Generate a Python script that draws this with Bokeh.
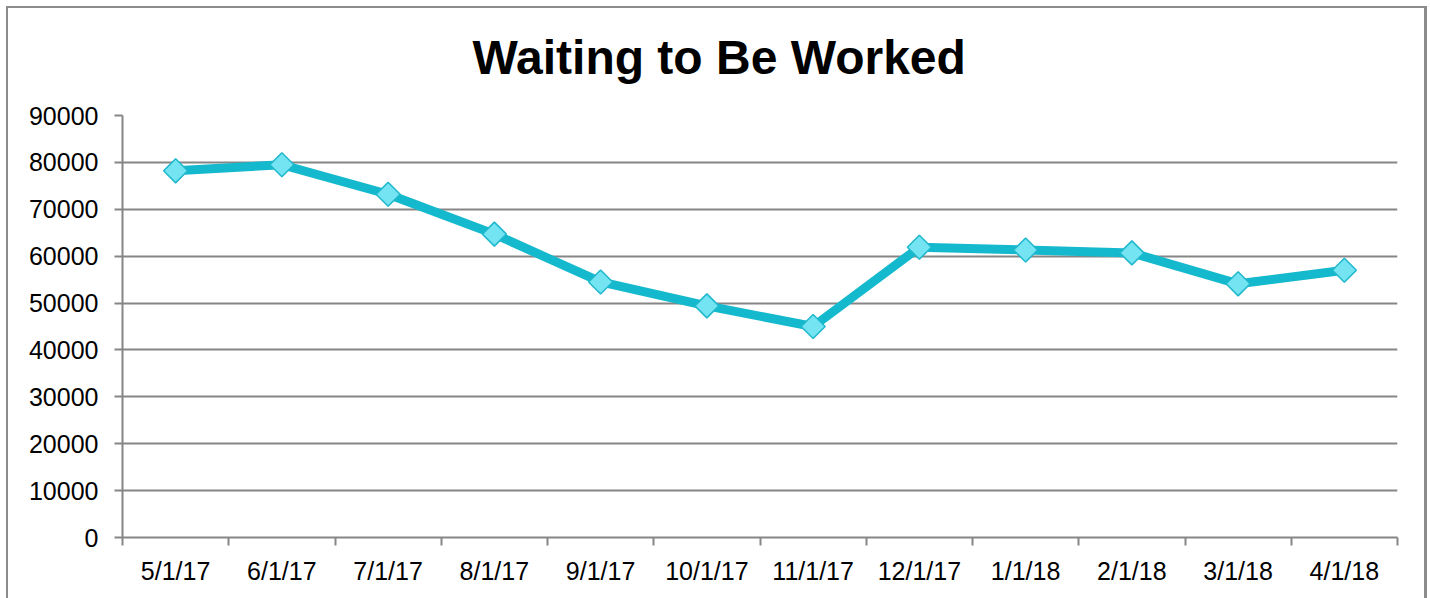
import math
from bokeh.plotting import figure
from bokeh.embed import file_html
from bokeh.resources import INLINE
from bokeh.models import FixedTicker, Range1d, ColumnDataSource

categories = ["5/1/17", "6/1/17", "7/1/17", "8/1/17", "9/1/17", "10/1/17",
              "11/1/17", "12/1/17", "1/1/18", "2/1/18", "3/1/18", "4/1/18"]
values = [78200, 79500, 73200, 64700, 54500, 49400, 45000, 61900, 61300, 60700, 54100, 57000]
y_ticks = [0, 10000, 20000, 30000, 40000, 50000, 60000, 70000, 80000, 90000]
title_text = "Waiting to Be Worked"

xs = [i + 0.5 for i in range(len(categories))]
src = ColumnDataSource(dict(x=xs, y=values, cat=categories))

p = figure(width=1430, height=598, output_backend="svg", toolbar_location=None,
           x_range=Range1d(0, len(categories)), y_range=Range1d(0, 90000),
           min_border_left=122, min_border_right=33, min_border_top=115, min_border_bottom=61,
           title=title_text)
p.styles = {"box-shadow": ("inset 6px 6px 0 0 #ffffff, inset -3px 0 0 0 #ffffff, "
                           "inset 8px 8px 0 0 #8c8c8c, inset -6px 0 0 0 #8c8c8c")}
p.outline_line_color = None
p.background_fill_color = None
p.border_fill_color = None

p.title.text_font = "Liberation Sans"
p.title.text_font_size = "48px"
p.title.text_font_style = "bold"
p.title.align = "left"
p.title.vertical_align = "top"
p.title.offset = 350
p.title.standoff = 59
p.title.text_color = "black"

# x axis
p.xaxis.ticker = FixedTicker(ticks=xs, minor_ticks=list(range(len(categories) + 1)))
p.xaxis.major_label_overrides = {x: c for x, c in zip(xs, categories)}
p.xaxis.major_tick_out = 0
p.xaxis.major_tick_in = 0
p.xaxis.minor_tick_out = 8
p.xaxis.minor_tick_in = 0
p.xaxis.minor_tick_line_color = "#868686"
p.xaxis.minor_tick_line_width = 2
p.xaxis.axis_line_color = "#868686"
p.xaxis.axis_line_width = 2
p.xaxis.major_label_text_font = "Liberation Sans"
p.xaxis.major_label_text_font_size = "25px"
p.xaxis.major_label_text_color = "black"
p.xaxis.major_label_standoff = 11

# y axis
p.yaxis.ticker = FixedTicker(ticks=y_ticks)
p.yaxis.major_label_overrides = {v: str(v) for v in y_ticks}
p.yaxis.major_tick_out = 8
p.yaxis.major_tick_in = 0
p.yaxis.minor_tick_line_color = None
p.yaxis.major_tick_line_color = "#868686"
p.yaxis.major_tick_line_width = 2
p.yaxis.axis_line_color = "#868686"
p.yaxis.axis_line_width = 2
p.yaxis.major_label_text_font = "Liberation Sans"
p.yaxis.major_label_text_font_size = "25px"
p.yaxis.major_label_text_color = "black"
p.yaxis.major_label_standoff = 16

p.xgrid.grid_line_color = None
p.ygrid.ticker = FixedTicker(ticks=y_ticks)
p.ygrid.grid_line_color = "#868686"
p.ygrid.grid_line_width = 2

p.line("x", "y", source=src, line_color="#15b9cd", line_width=9)
p.scatter("x", "y", source=src, marker="square", angle=math.pi / 4, size=17,
          fill_color="#74e3f2", line_color="#1fb8cc", line_width=1.5)

open("out.html", "w").write(file_html(p, INLINE))
